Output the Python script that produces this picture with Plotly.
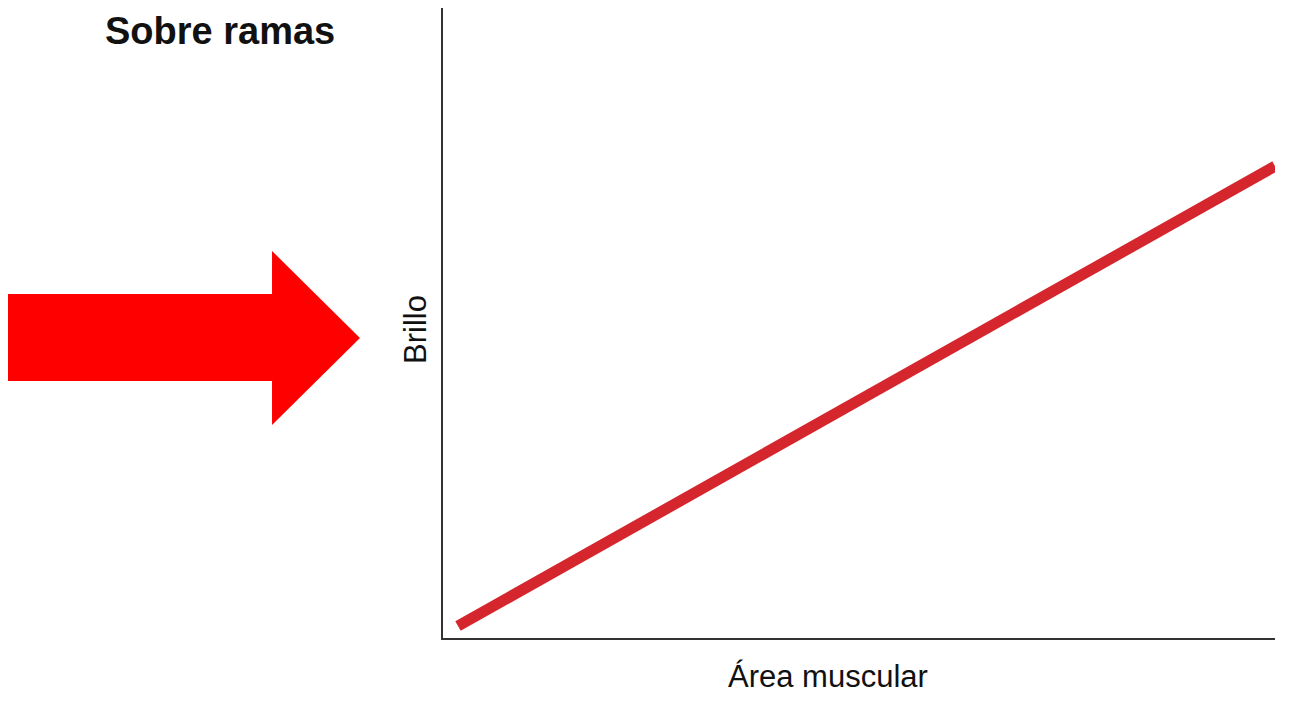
import plotly.graph_objects as go

# data
line_x = [0.018, 1.0]
line_y = [0.019, 0.749]
x_title = "Área muscular"
y_title = "Brillo"
heading = "Sobre ramas"

OFF = 8  # page body margin
W, H = 1290, 703
L, T = 443 - OFF, 8 - OFF
R = W - (1275 - OFF)
B = H - (638 - OFF)
pw, ph = W - L - R, H - T - B

def px(x):
    return (x - OFF - L) / pw

def py(y):
    return (H - B - (y - OFF)) / ph

arrow_pts = [(8, 294), (272, 294), (272, 251), (360, 338), (272, 425), (272, 381), (8, 381)]
path = "M " + " L ".join(f"{px(a):.4f},{py(b):.4f}" for a, b in arrow_pts) + " Z"

fig = go.Figure()
fig.add_trace(go.Scatter(x=line_x, y=line_y, mode="lines",
                         line=dict(color="#d6262d", width=11), hoverinfo="skip"))

fig.update_layout(
    width=W, height=H,
    margin=dict(l=L, r=R, t=T, b=B),
    paper_bgcolor="white", plot_bgcolor="white",
    showlegend=False,
    font=dict(family="Liberation Sans, Arial, sans-serif", color="#111"),
    xaxis=dict(range=[0, 1], showgrid=False, zeroline=False, showticklabels=False,
               ticks="", showline=True, linecolor="#333", linewidth=2),
    yaxis=dict(range=[0, 1], showgrid=False, zeroline=False, showticklabels=False,
               ticks="", showline=True, linecolor="#333", linewidth=2),
    shapes=[dict(type="path", path=path, xref="paper", yref="paper",
                 fillcolor="#ff0000", line=dict(width=0), layer="above")],
    annotations=[
        dict(text="<b>" + heading + "</b>", x=px(220), y=1, xref="paper", yref="paper",
             xanchor="center", yanchor="top", showarrow=False,
             font=dict(size=38, color="#111")),
        dict(text=x_title, x=px(828), y=py(676), xref="paper", yref="paper",
             xanchor="center", yanchor="middle", showarrow=False,
             font=dict(size=31, color="#111")),
        dict(text=y_title, x=px(415), y=py(330), xref="paper", yref="paper",
             xanchor="center", yanchor="middle", showarrow=False, textangle=-90,
             font=dict(size=31, color="#111")),
    ],
)
fig.write_html("out.html")
